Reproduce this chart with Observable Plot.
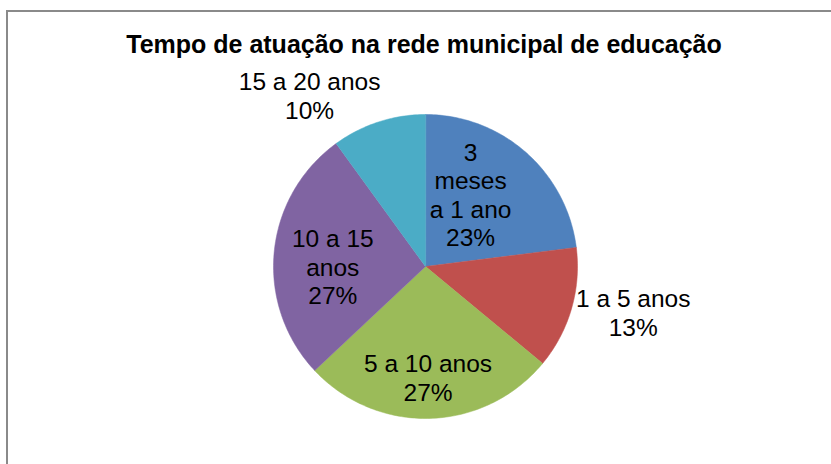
<!DOCTYPE html>
<html>
<head>
<meta charset="utf-8">
<script src="https://cdn.jsdelivr.net/npm/d3@7"></script>
<script src="https://cdn.jsdelivr.net/npm/@observablehq/plot@0.6"></script>
<style>
  html, body { margin: 0; padding: 0; background: #fff; overflow: hidden; }
  #wrap { position: relative; width: 831px; height: 464px; overflow: hidden; }
  #border { position: absolute; left: 6px; top: 10px; width: 900px; height: 600px;
            border: 2px solid #8a8a8a; box-sizing: border-box; }
  #chart { position: absolute; left: 0; top: 0; }
  #chart svg { font-family: "Liberation Sans", Arial, sans-serif; }
</style>
</head>
<body>
<div id="wrap"><div id="border"></div><div id="chart"></div></div>
<script>
// ---- data ----
const title = "Tempo de atuação na rede municipal de educação";
const categories = ["3 meses a 1 ano", "1 a 5 anos", "5 a 10 anos", "10 a 15 anos", "15 a 20 anos"];
const values = [23, 13, 27, 27, 10];
const colors = ["#4F81BD", "#C0504D", "#9BBB59", "#8064A2", "#4BACC6"];

// ---- layout (label wrapping & placement, not data) ----
const wrappedNames = ["3\nmeses\na 1 ano", "1 a 5 anos", "5 a 10 anos", "10 a 15\nanos", "15 a 20 anos"];
const labelRadius = [0.56, 1.40, 0.73, 0.61, 1.36];   // fraction of pie radius
const labelAngleShift = [-9.4, -3.7, 0.5, -5.4, -16.1]; // degrees from mid-angle

const total = d3.sum(values);
const toRad = Math.PI / 180;
const slicePts = [];
const labels = [];
let acc = 0;
categories.forEach((c, i) => {
  const a0 = acc / total * 360;
  acc += values[i];
  const a1 = acc / total * 360;
  slicePts.push({cat: c, x: 0, y: 0});
  const n = Math.max(2, Math.ceil(a1 - a0));
  for (let k = 0; k <= n; k++) {
    const a = (a0 + (a1 - a0) * k / n) * toRad;
    slicePts.push({cat: c, x: Math.sin(a), y: -Math.cos(a)});
  }
  const mid = ((a0 + a1) / 2 + labelAngleShift[i]) * toRad;
  const r = labelRadius[i];
  labels.push({
    cat: c,
    text: wrappedNames[i] + "\n" + Math.round(values[i] / total * 100) + "%",
    x: r * Math.sin(mid),
    y: -r * Math.cos(mid)
  });
});

const cx = 425, cy = 266, R = 152;
const chart = Plot.plot({
  width: 831,
  height: 464,
  margin: 0,
  x: {domain: [-1, 1], range: [cx - R, cx + R], axis: null},
  y: {domain: [-1, 1], range: [cy - R, cy + R], axis: null},
  color: {domain: categories, range: colors},
  marks: [
    Plot.line(slicePts, {x: "x", y: "y", z: "cat", fill: "cat", stroke: "cat",
      strokeWidth: 0.5, curve: "linear-closed"}),
    Plot.text(labels, {x: "x", y: "y", text: "text", fontSize: 24.5, lineHeight: 1.165,
      lineAnchor: "middle", fill: "#000"}),
    Plot.text([title], {frameAnchor: "top", dx: 8, dy: 35, lineAnchor: "top",
      fontSize: 25, fontWeight: "bold", fill: "#000"})
  ]
});
document.getElementById("chart").appendChild(chart);
</script>
</body>
</html>
